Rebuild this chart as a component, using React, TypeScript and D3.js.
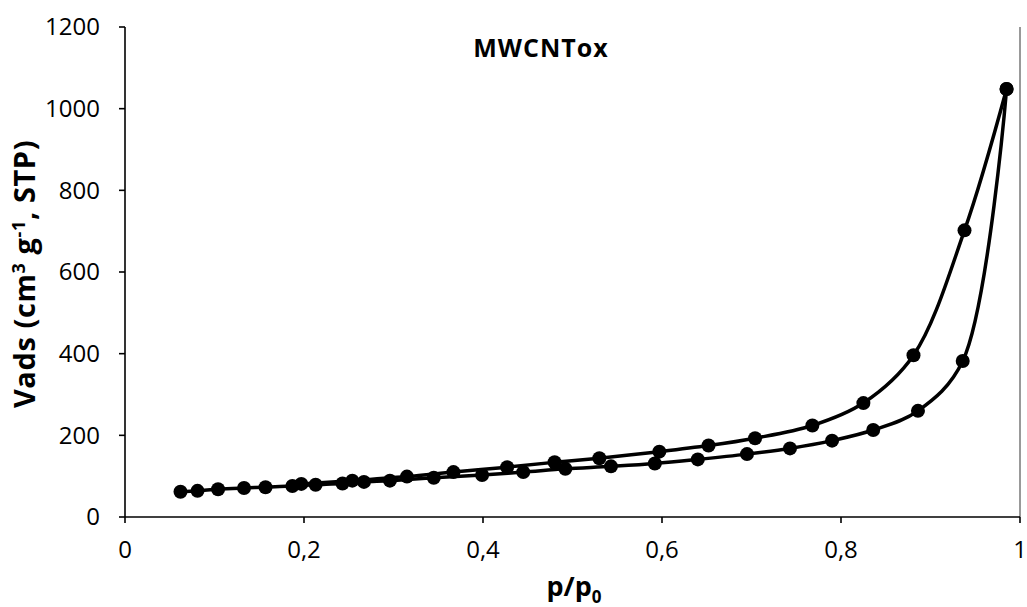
import React from "react";
import * as d3 from "d3";

const adsX = [0.062, 0.081, 0.104, 0.133, 0.157, 0.187, 0.213, 0.243, 0.267, 0.296, 0.345, 0.399, 0.445, 0.492, 0.543, 0.592, 0.640, 0.695, 0.743, 0.790, 0.836, 0.886, 0.936, 0.985];
const adsY = [62, 64, 68, 71, 73, 76, 79, 82, 86, 89, 96, 103, 110, 118, 124, 131, 141, 154, 168, 187, 213, 260, 382, 1048];
const desX = [0.985, 0.938, 0.881, 0.825, 0.768, 0.704, 0.652, 0.597, 0.530, 0.480, 0.427, 0.367, 0.315, 0.254, 0.197];
const desY = [1048, 702, 396, 279, 224, 193, 175, 160, 144, 134, 122, 110, 99, 89, 81];

const xTicks = [0, 0.2, 0.4, 0.6, 0.8, 1];
const yTicks = [0, 200, 400, 600, 800, 1000, 1200];
const chartTitle = "MWCNTox";

const W = 1027;
const H = 607;
const M = { left: 125, right: 1020, top: 27, bottom: 517 };
const FONT = "'Open Sans', sans-serif";

export default function App() {
  const x = d3.scaleLinear().domain([0, 1]).range([M.left, M.right]);
  const y = d3.scaleLinear().domain([0, 1200]).range([M.bottom, M.top]);
  const ads = adsX.map((v, i) => [v, adsY[i]] as [number, number]);
  const des = desX.map((v, i) => [v, desY[i]] as [number, number]);
  const line = d3
    .line<[number, number]>()
    .x((d) => x(d[0]))
    .y((d) => y(d[1]))
    .curve(d3.curveCatmullRom.alpha(0.5));
  const fmt = (v: number) => String(v).replace(".", ",");

  return (
    <svg
      width={W}
      height={H}
      style={{ position: "absolute", left: 0, top: 0, background: "#fff" }}
      fontFamily={FONT}
    >
      <rect x={0} y={0} width={W} height={H} fill="#fff" />
      {/* right border */}
      <line x1={M.right} x2={M.right} y1={M.top} y2={M.bottom} stroke="#555" strokeWidth={1.2} />
      {/* y axis */}
      <line x1={M.left} x2={M.left} y1={M.top} y2={M.bottom} stroke="#000" strokeWidth={1.6} />
      {yTicks.map((t) => (
        <g key={"y" + t}>
          <line x1={M.left - 6} x2={M.left} y1={y(t)} y2={y(t)} stroke="#000" strokeWidth={1.6} />
          <text x={100} y={y(t)} dy="0.35em" textAnchor="end" fontSize={24} fill="#000">
            {t}
          </text>
        </g>
      ))}
      {/* x axis */}
      <line x1={M.left} x2={M.right} y1={M.bottom} y2={M.bottom} stroke="#000" strokeWidth={1.6} />
      {xTicks.map((t) => (
        <g key={"x" + t}>
          <line x1={x(t)} x2={x(t)} y1={M.bottom} y2={M.bottom + 6} stroke="#000" strokeWidth={1.6} />
          <text x={x(t)} y={550} dy="0.35em" textAnchor="middle" fontSize={24} fill="#000">
            {fmt(t)}
          </text>
        </g>
      ))}
      {/* series */}
      <path d={line(ads) || ""} fill="none" stroke="#000" strokeWidth={3.5} />
      <path d={line(des) || ""} fill="none" stroke="#000" strokeWidth={3.5} />
      {ads.map((d, i) => (
        <circle key={"a" + i} cx={x(d[0])} cy={y(d[1])} r={7} fill="#000" />
      ))}
      {des.map((d, i) => (
        <circle key={"d" + i} cx={x(d[0])} cy={y(d[1])} r={7} fill="#000" />
      ))}
      {/* titles */}
      <text x={541} y={48} dy="0.35em" textAnchor="middle" fontSize={25} fontWeight="bold" letterSpacing={1} fill="#000">
        {chartTitle}
      </text>
      <text x={574} y={587} dy="0.35em" textAnchor="middle" fontSize={27} fontWeight="bold" fill="#000">
        p/p
        <tspan fontSize={17} dy={7}>0</tspan>
      </text>
      <text
        transform={`translate(25, 274) rotate(-90)`}
        textAnchor="middle"
        dy="0.35em"
        fontSize={29}
        fontWeight="bold"
        letterSpacing={0.6}
        fill="#000"
      >
        Vads (cm<tspan fontSize={18} dy={-10}>3</tspan>
        <tspan dy={10}> g</tspan>
        <tspan fontSize={18} dy={-10}>-1</tspan>
        <tspan dy={10}>, STP)</tspan>
      </text>
    </svg>
  );
}
